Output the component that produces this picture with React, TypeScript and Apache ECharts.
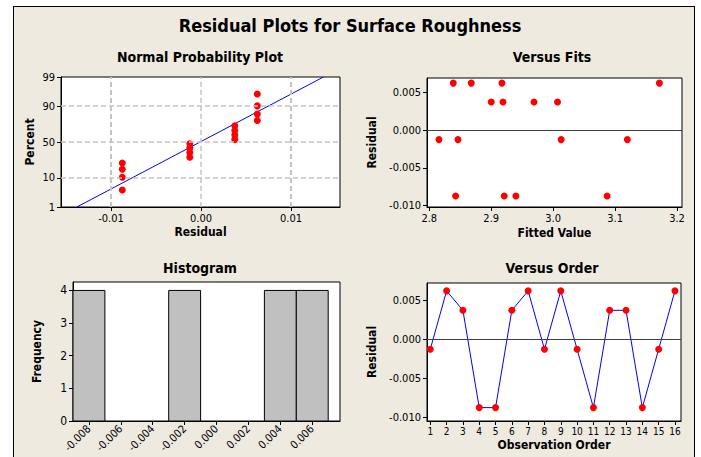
import { useEffect, useRef } from "react";
import * as echarts from "echarts";

const mainTitle = "Residual Plots for Surface Roughness";
const panelTitles = ["Normal Probability Plot", "Versus Fits", "Histogram", "Versus Order"];

// Normal probability plot
const normResiduals = [
  -0.00875, -0.00875, -0.00875, -0.00875,
  -0.00125, -0.00125, -0.00125, -0.00125,
  0.00375, 0.00375, 0.00375, 0.00375,
  0.00625, 0.00625, 0.00625, 0.00625,
];
const normPercents = [4.3, 10.4, 16.5, 22.6, 29.3, 35.4, 41.5, 47.6, 53.7, 59.8, 65.9, 72.0, 78.0, 84.1, 90.2, 95.7];
const fitLineResiduals = [-0.0138, 0.0136];
const fitLinePercents = [1, 99];
const percentTicks = [1, 10, 50, 90, 99];
const percentGrid = [10, 50, 90];
const normXTicks = [-0.01, 0, 0.01];
const normXGrid = [-0.015, -0.01, -0.005, 0, 0.005, 0.01, 0.015];

// Versus fits
const fittedValues = [
  2.8387, 2.8677, 2.9173, 3.1715,
  2.9, 2.919, 2.969, 3.007,
  2.8156, 2.8463, 3.0129, 3.1198,
  2.8425, 2.921, 2.9398, 3.0871,
];
const fitResiduals = [
  0.00625, 0.00625, 0.00625, 0.00625,
  0.00375, 0.00375, 0.00375, 0.00375,
  -0.00125, -0.00125, -0.00125, -0.00125,
  -0.00875, -0.00875, -0.00875, -0.00875,
];
const fitXTicks = [2.8, 2.9, 3.0, 3.1, 3.2];
const residualTicks = [-0.01, -0.005, 0, 0.005];

// Histogram
const binCenters = [-0.008, -0.006, -0.004, -0.002, 0, 0.002, 0.004, 0.006];
const binCounts = [4, 0, 0, 4, 0, 0, 4, 4];
const binWidth = 0.002;
const freqTicks = [0, 1, 2, 3, 4];

// Versus order
const observationOrder = [1, 2, 3, 4, 5, 6, 7, 8, 9, 10, 11, 12, 13, 14, 15, 16];
const orderResiduals = [
  -0.00125, 0.00625, 0.00375, -0.00875, -0.00875, 0.00375, 0.00625, -0.00125,
  0.00625, -0.00125, -0.00875, 0.00375, 0.00375, -0.00875, -0.00125, 0.00625,
];

function probit(p: number): number {
  const a = [-39.69683028665376, 220.9460984245205, -275.9285104469687, 138.357751867269, -30.66479806614716, 2.506628277459239];
  const b = [-54.47609879822406, 161.5858368580409, -155.6989798598866, 66.80131188771972, -13.28068155288572];
  const c = [-0.007784894002430293, -0.3223964580411365, -2.400758277161838, -2.549732539343734, 4.374664141464968, 2.938163982698783];
  const d = [0.007784695709041462, 0.3224671290700398, 2.445134137142996, 3.754408661907416];
  const pl = 0.02425;
  if (p < pl) {
    const q = Math.sqrt(-2 * Math.log(p));
    return (((((c[0] * q + c[1]) * q + c[2]) * q + c[3]) * q + c[4]) * q + c[5]) / ((((d[0] * q + d[1]) * q + d[2]) * q + d[3]) * q + 1);
  }
  if (p > 1 - pl) {
    const q = Math.sqrt(-2 * Math.log(1 - p));
    return -(((((c[0] * q + c[1]) * q + c[2]) * q + c[3]) * q + c[4]) * q + c[5]) / ((((d[0] * q + d[1]) * q + d[2]) * q + d[3]) * q + 1);
  }
  const q = p - 0.5;
  const r = q * q;
  return ((((((a[0] * r + a[1]) * r + a[2]) * r + a[3]) * r + a[4]) * r + a[5]) * q) / (((((b[0] * r + b[1]) * r + b[2]) * r + b[3]) * r + b[4]) * r + 1);
}

const FONT = "'DejaVu Sans Condensed', 'DejaVu Sans', sans-serif";
const BG = "#EEEAE0";

const tickStyle = { show: true, inside: false, length: 4, lineStyle: { color: "#000", width: 1 } };
const labelBase = { color: "#000", fontSize: 11, fontFamily: FONT };
const nameStyle = { color: "#000", fontSize: 12, fontWeight: "bold", fontFamily: FONT };
const axisLine = { show: true, onZero: false, lineStyle: { color: "#000", width: 1 } };

function valAxis(extra: any) {
  return {
    type: "value",
    axisLine,
    splitLine: { show: false },
    nameLocation: "middle",
    nameTextStyle: nameStyle,
    ...extra,
  };
}

const zeroLine = {
  silent: true,
  symbol: ["none", "none"],
  label: { show: false },
  lineStyle: { color: "#404040", type: "solid", width: 1 },
  data: [{ yAxis: 0 }],
};

export default function App() {
  const ref = useRef<HTMLDivElement>(null);
  useEffect(() => {
    if (!ref.current) return;
    const chart = echarts.init(ref.current, undefined, { renderer: "svg" });
    const zLo = probit(percentTicks[0] / 100);
    const zHi = probit(percentTicks[percentTicks.length - 1] / 100);
    const percentLabel = (v: number) => {
      const p = percentTicks.find((t) => Math.abs(probit(t / 100) - v) < 1e-6);
      return p === undefined ? "" : String(p);
    };
    const gridBox = { show: true, backgroundColor: "#fff", borderColor: "#000", borderWidth: 1, containLabel: false };
    const option: any = {
      animation: false,
      backgroundColor: "transparent",
      textStyle: { fontFamily: FONT },
      grid: [
        { ...gridBox, left: 61, top: 77, width: 279, height: 130 },
        { ...gridBox, left: 427, top: 78, width: 255, height: 129 },
        { ...gridBox, left: 73, top: 282, width: 267, height: 139 },
        { ...gridBox, left: 427, top: 283, width: 254, height: 138 },
      ],
      xAxis: [
        valAxis({
          gridIndex: 0, min: -0.01556, max: 0.01544,
          axisTick: { ...tickStyle, customValues: normXTicks },
          axisLabel: { ...labelBase, margin: 6, customValues: normXTicks, formatter: (v: number) => v.toFixed(2) },
          name: "Residual", nameGap: 19,
        }),
        valAxis({
          gridIndex: 1, min: 2.7963, max: 3.208,
          axisTick: { ...tickStyle, customValues: fitXTicks },
          axisLabel: { ...labelBase, margin: 6, customValues: fitXTicks, formatter: (v: number) => v.toFixed(1) },
          name: "Fitted Value", nameGap: 20,
        }),
        valAxis({
          gridIndex: 2, min: -0.009, max: 0.00774,
          axisTick: { ...tickStyle, customValues: binCenters },
          axisLabel: { ...labelBase, fontSize: 11, rotate: 45, margin: 6, customValues: binCenters, formatter: (v: number) => v.toFixed(3) },
        }),
        valAxis({
          gridIndex: 3, min: 0.798, max: 16.37,
          axisTick: { ...tickStyle, customValues: observationOrder },
          axisLabel: { ...labelBase, fontSize: 10, margin: 5, customValues: observationOrder, formatter: (v: number) => String(Math.round(v)) },
          name: "Observation Order", nameGap: 18,
        }),
      ],
      yAxis: [
        valAxis({
          gridIndex: 0, min: zLo, max: zHi,
          axisTick: { ...tickStyle, customValues: percentTicks.map((p) => probit(p / 100)) },
          axisLabel: { ...labelBase, margin: 6, customValues: percentTicks.map((p) => probit(p / 100)), formatter: percentLabel },
          name: "Percent", nameGap: 25,
        }),
        valAxis({
          gridIndex: 1, min: -0.0102, max: 0.00693,
          axisTick: { ...tickStyle, customValues: residualTicks },
          axisLabel: { ...labelBase, margin: 6, customValues: residualTicks, formatter: (v: number) => v.toFixed(3) },
          name: "Residual", nameGap: 49,
        }),
        valAxis({
          gridIndex: 2, min: 0, max: 4.258,
          axisTick: { ...tickStyle, customValues: freqTicks },
          axisLabel: { ...labelBase, fontSize: 12, margin: 6, customValues: freqTicks, formatter: (v: number) => String(Math.round(v)) },
          name: "Frequency", nameGap: 30,
        }),
        valAxis({
          gridIndex: 3, min: -0.01047, max: 0.00726,
          axisTick: { ...tickStyle, customValues: residualTicks },
          axisLabel: { ...labelBase, margin: 6, customValues: residualTicks, formatter: (v: number) => v.toFixed(3) },
          name: "Residual", nameGap: 49,
        }),
      ],
      series: [
        {
          type: "line", xAxisIndex: 0, yAxisIndex: 0, data: [], z: 1, silent: true,
          markLine: {
            silent: true,
            symbol: ["none", "none"],
            label: { show: false },
            lineStyle: { color: "#c4c4c4", type: [5, 3], width: 1.5 },
            data: [
              ...normXGrid.map((v) => ({ xAxis: v })),
              ...percentGrid.map((p) => ({ yAxis: probit(p / 100) })),
            ],
          },
        },
        {
          type: "line", xAxisIndex: 0, yAxisIndex: 0, z: 2, silent: true,
          showSymbol: false,
          lineStyle: { color: "#0000ff", width: 1 },
          data: fitLineResiduals.map((r, i) => [r, probit(fitLinePercents[i] / 100)]),
        },
        {
          type: "scatter", xAxisIndex: 0, yAxisIndex: 0, z: 3,
          symbolSize: 7, itemStyle: { color: "#ff0000", opacity: 1 },
          data: normResiduals.map((r, i) => [r, probit(normPercents[i] / 100)]),
        },
        {
          type: "scatter", xAxisIndex: 1, yAxisIndex: 1, z: 3,
          symbolSize: 7, itemStyle: { color: "#ff0000", opacity: 1 },
          data: fittedValues.map((f, i) => [f, fitResiduals[i]]),
          markLine: zeroLine,
        },
        {
          type: "custom", xAxisIndex: 2, yAxisIndex: 2, z: 3,
          data: binCenters.map((c, i) => [c, binCounts[i]]),
          renderItem: (_params: any, api: any) => {
            const c = api.value(0);
            const n = api.value(1);
            if (!n) return { type: "group", children: [] };
            const p0 = api.coord([c - binWidth / 2, n]);
            const p1 = api.coord([c + binWidth / 2, 0]);
            return {
              type: "rect",
              shape: { x: p0[0], y: p0[1], width: p1[0] - p0[0], height: p1[1] - p0[1] },
              style: { fill: "#c0c0c0", stroke: "#000", lineWidth: 1 },
            };
          },
        },
        {
          type: "line", xAxisIndex: 3, yAxisIndex: 3, z: 3,
          symbol: "circle", symbolSize: 7,
          itemStyle: { color: "#ff0000", opacity: 1 },
          lineStyle: { color: "#0000ff", width: 1 },
          data: observationOrder.map((o, i) => [o, orderResiduals[i]]),
          markLine: zeroLine,
        },
      ],
      graphic: [
        { type: "text", x: 350, y: 25, style: { text: mainTitle, fill: "#000", font: `bold 18px ${FONT}`, textAlign: "center", textVerticalAlign: "middle" } },
        { type: "text", x: 200, y: 57, style: { text: panelTitles[0], fill: "#000", font: `bold 14px ${FONT}`, textAlign: "center", textVerticalAlign: "middle" } },
        { type: "text", x: 552, y: 57, style: { text: panelTitles[1], fill: "#000", font: `bold 14px ${FONT}`, textAlign: "center", textVerticalAlign: "middle" } },
        { type: "text", x: 200, y: 268, style: { text: panelTitles[2], fill: "#000", font: `bold 14px ${FONT}`, textAlign: "center", textVerticalAlign: "middle" } },
        { type: "text", x: 552, y: 268, style: { text: panelTitles[3], fill: "#000", font: `bold 14px ${FONT}`, textAlign: "center", textVerticalAlign: "middle" } },
      ],
    };
    chart.setOption(option);
    return () => chart.dispose();
  }, []);
  return (
    <div style={{ position: "fixed", left: 0, top: 0, width: 701, height: 457, background: "#fff", overflow: "hidden" }}>
      <div style={{ position: "absolute", left: 13, top: 6, width: 680, height: 470, border: "1px solid #000", background: BG }} />
      <div ref={ref} style={{ position: "absolute", left: 0, top: 0, width: 701, height: 457 }} />
    </div>
  );
}
